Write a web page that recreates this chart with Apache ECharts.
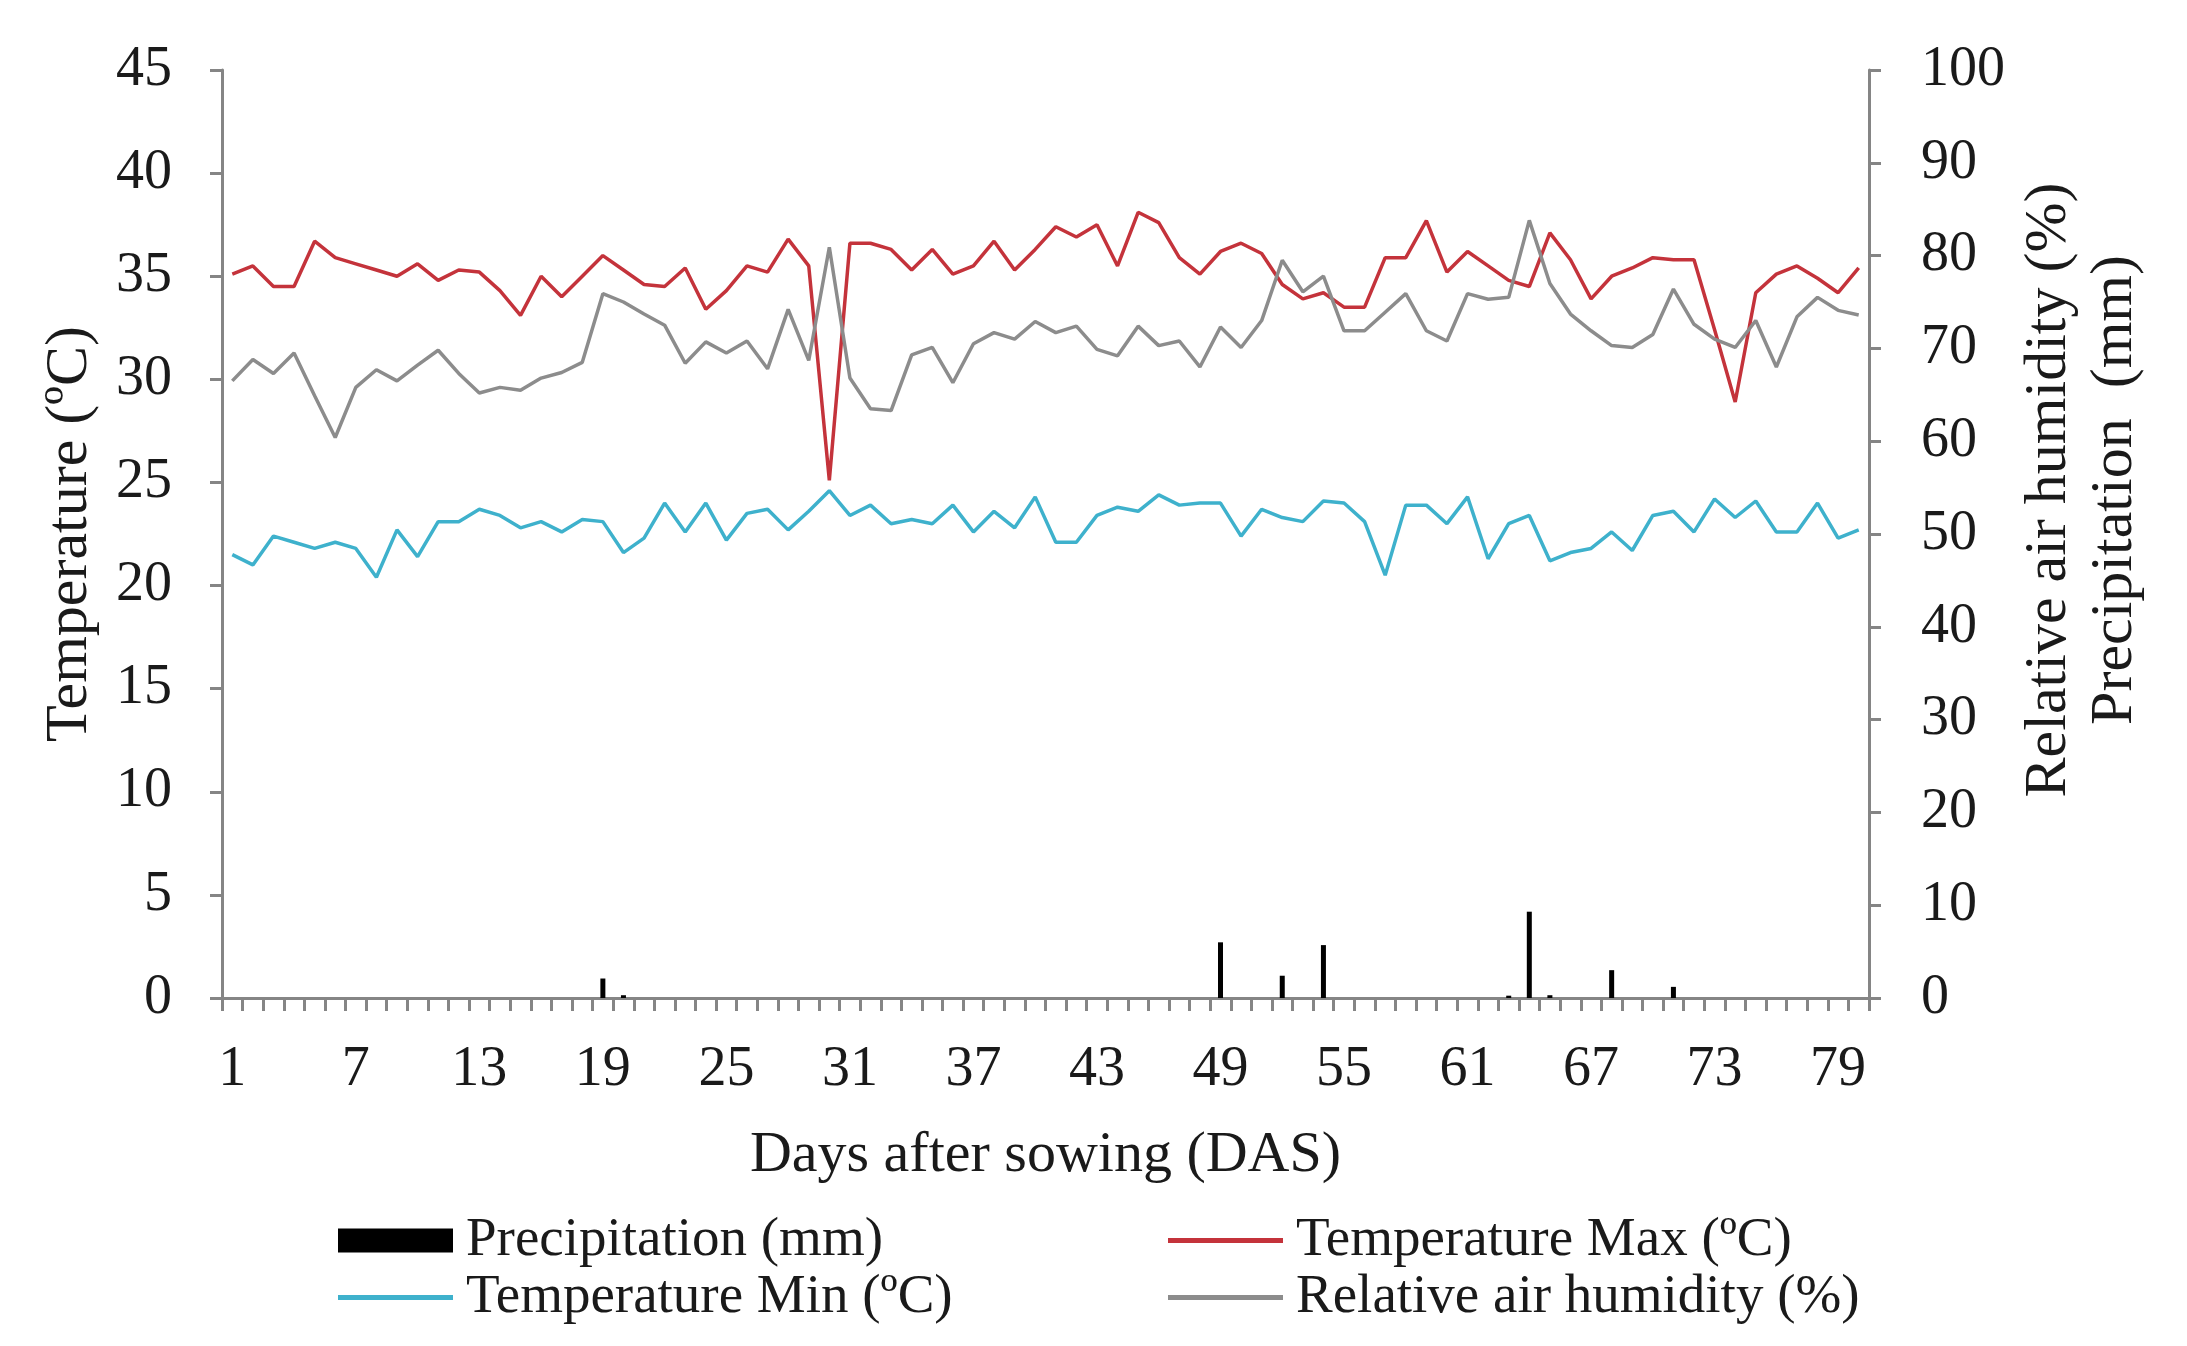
<!DOCTYPE html>
<html>
<head>
<meta charset="utf-8">
<script src="https://cdn.jsdelivr.net/npm/echarts@6/dist/echarts.min.js"></script>
<style>
html,body{margin:0;padding:0;background:#fff;}
#c{width:2187px;height:1346px;}
</style>
</head>
<body>
<div id="c"></div>
<script>
const days = [];
for (let d = 1; d <= 80; d++) days.push(String(d));

const tempMax = [35.1,35.5,34.5,34.5,36.7,35.9,35.6,35.3,35.0,35.6,
  34.8,35.3,35.2,34.3,33.1,35.0,34.0,35.0,36.0,35.3,
  34.6,34.5,35.4,33.4,34.3,35.5,35.2,36.8,35.5,25.1,
  36.6,36.6,36.3,35.3,36.3,35.1,35.5,36.7,35.3,36.3,
  37.4,36.9,37.5,35.5,38.1,37.6,35.9,35.1,36.2,36.6,
  36.1,34.6,33.9,34.2,33.5,33.5,35.9,35.9,37.7,35.2,
  36.2,35.5,34.8,34.5,37.1,35.8,33.9,35.0,35.4,35.9,
  35.8,35.8,32.4,28.9,34.2,35.1,35.5,34.9,34.2,35.4];

const tempMin = [21.5,21.0,22.4,22.1,21.8,22.1,21.8,20.4,22.7,21.4,
  23.1,23.1,23.7,23.4,22.8,23.1,22.6,23.2,23.1,21.6,
  22.3,24.0,22.6,24.0,22.2,23.5,23.7,22.7,23.6,24.6,
  23.4,23.9,23.0,23.2,23.0,23.9,22.6,23.6,22.8,24.3,
  22.1,22.1,23.4,23.8,23.6,24.4,23.9,24.0,24.0,22.4,
  23.7,23.3,23.1,24.1,24.0,23.1,20.5,23.9,23.9,23.0,
  24.3,21.3,23.0,23.4,21.2,21.6,21.8,22.6,21.7,23.4,
  23.6,22.6,24.2,23.3,24.1,22.6,22.6,24.0,22.3,22.7];

const humidity = [66.5,68.8,67.3,69.5,64.9,60.4,65.8,67.7,66.5,68.2,
  69.8,67.3,65.2,65.8,65.5,66.8,67.4,68.5,75.9,75.0,
  73.7,72.5,68.4,70.7,69.5,70.8,67.8,74.2,68.7,80.9,
  66.8,63.5,63.3,69.3,70.1,66.3,70.5,71.7,71.0,72.9,
  71.7,72.4,69.9,69.2,72.4,70.3,70.8,68.0,72.3,70.1,
  73.0,79.5,76.1,77.8,71.9,71.9,73.9,75.9,71.9,70.8,
  75.9,75.3,75.5,83.8,77.0,73.7,71.9,70.3,70.1,71.5,
  76.4,72.6,71.0,70.1,73.0,68.0,73.4,75.5,74.1,73.6];

const precipitation = [0,0,0,0,0,0,0,0,0,0,
  0,0,0,0,0,0,0,0,2.1,0.3,
  0,0,0,0,0,0,0,0,0,0,
  0,0,0,0,0,0,0,0,0,0,
  0,0,0,0,0,0,0,0,6.0,0,
  0,2.4,0,5.7,0,0,0,0,0,0,
  0,0,0.25,9.3,0.3,0,0,3.0,0,0,
  1.2,0,0,0,0,0,0,0,0,0];

const seriesNames = ['Precipitation (mm)','Temperature Max (ºC)','Temperature Min (ºC)','Relative air humidity (%)'];

const FONT = 'Liberation Serif';
const TXT = '#1a1a1a';
const AXIS = '#858585';
const C_MAX = '#c4333b', C_MIN = '#3eb1cc', C_HUM = '#8c8c8c';

const chart = echarts.init(document.getElementById('c'));

function legendAt(name, left, top, h) {
  return {
    data: [{ name: name, icon: 'rect' }], left: left, top: top, orient: 'horizontal',
    itemWidth: 115, itemHeight: h, itemGap: 0,
    textStyle: { fontFamily: FONT, fontSize: 55, color: TXT, padding: [0,0,0,8] },
    selectedMode: false
  };
}

chart.setOption({
  animation: false,
  backgroundColor: '#ffffff',
  grid: { left: 222, right: 318, top: 70, bottom: 348, containLabel: false },
  legend: [
    legendAt(seriesNames[0], 333, 1208, 24),
    legendAt(seriesNames[1], 1163, 1208, 5),
    legendAt(seriesNames[2], 333, 1265, 5),
    legendAt(seriesNames[3], 1163, 1265, 5)
  ],
  xAxis: {
    type: 'category', data: days, boundaryGap: true,
    name: 'Days after sowing (DAS)', nameLocation: 'middle', nameGap: 129,
    nameTextStyle: { fontFamily: FONT, fontSize: 58, color: TXT },
    axisLine: { lineStyle: { color: AXIS, width: 3 } },
    axisTick: { show: true, interval: 0, length: 13, lineStyle: { color: AXIS, width: 3 } },
    axisLabel: { interval: 5, margin: 44, fontFamily: FONT, fontSize: 56, color: TXT },
    splitLine: { show: false }
  },
  yAxis: [
    {
      type: 'value', min: 0, max: 45, interval: 5, position: 'left',
      name: 'Temperature (ºC)', nameLocation: 'middle', nameGap: 122,
      nameTextStyle: { fontFamily: FONT, fontSize: 60, color: TXT },
      axisLine: { show: true, lineStyle: { color: AXIS, width: 3 } },
      axisTick: { show: true, length: 12, lineStyle: { color: AXIS, width: 3 } },
      axisLabel: { margin: 50, fontFamily: FONT, fontSize: 56, color: TXT },
      splitLine: { show: false }
    },
    {
      type: 'value', min: 0, max: 100, interval: 10, position: 'right',
      name: 'Relative air humidity (%)\nPrecipitation  (mm)', nameLocation: 'middle', nameGap: 130,
      nameTextStyle: { fontFamily: FONT, fontSize: 60, color: TXT, lineHeight: 66, align: 'center', padding: [0,0,0,88] },
      axisLine: { show: true, lineStyle: { color: AXIS, width: 3 } },
      axisTick: { show: true, length: 12, lineStyle: { color: AXIS, width: 3 } },
      axisLabel: { margin: 52, fontFamily: FONT, fontSize: 56, color: TXT },
      splitLine: { show: false }
    }
  ],
  series: [
    {
      name: seriesNames[0], type: 'bar', yAxisIndex: 1, data: precipitation,
      barWidth: 5, itemStyle: { color: '#000000' }
    },
    {
      name: seriesNames[1], type: 'line', yAxisIndex: 0, data: tempMax,
      symbol: 'none', lineStyle: { color: C_MAX, width: 3.5 }, itemStyle: { color: C_MAX }
    },
    {
      name: seriesNames[2], type: 'line', yAxisIndex: 0, data: tempMin,
      symbol: 'none', lineStyle: { color: C_MIN, width: 3.5 }, itemStyle: { color: C_MIN }
    },
    {
      name: seriesNames[3], type: 'line', yAxisIndex: 1, data: humidity,
      symbol: 'none', lineStyle: { color: C_HUM, width: 3.5 }, itemStyle: { color: C_HUM }
    }
  ]
});
</script>
</body>
</html>
